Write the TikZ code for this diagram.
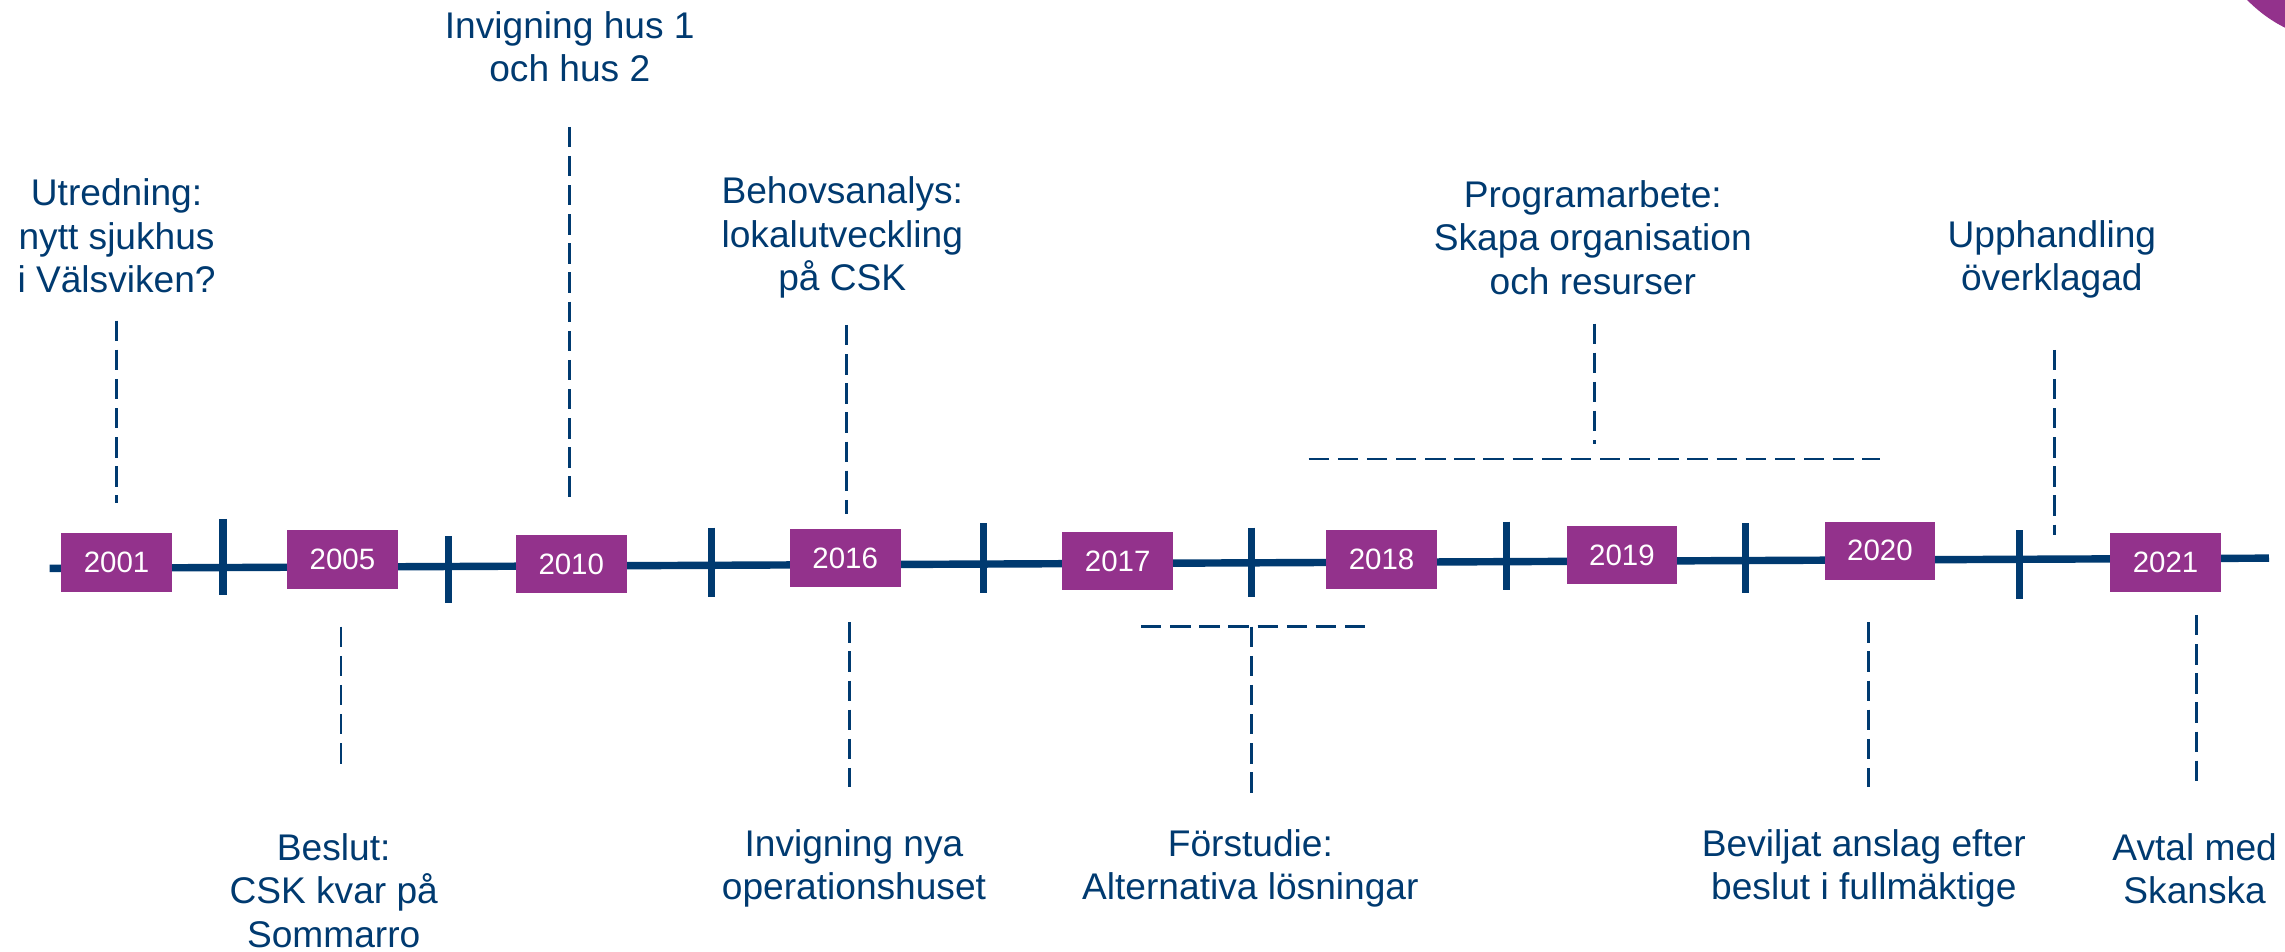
\documentclass[tikz,border=0pt]{standalone}
\usepackage{fontspec}
\setmainfont{Liberation Sans}
\definecolor{navy}{RGB}{0,58,112}
\definecolor{plum}{RGB}{147,50,140}
\begin{document}
\begin{tikzpicture}[x=0.02cm,y=-0.02cm,
  yearbox/.style={fill=plum, minimum width=1.52cm, minimum height=0.8cm, inner sep=0, text=white, font=\fontsize{11.5}{13}\selectfont},
  lbl/.style={align=center, text=navy, font=\fontsize{14.5}{17}\selectfont, inner sep=0},
  guide/.style={draw=navy, line width=1.1pt, dash pattern=on 0.28cm off 0.12cm},
  tickmark/.style={draw=navy, line width=2.8pt},
  axis/.style={draw=navy, line width=2.9pt}]
\useasboundingbox (0,0) rectangle (1568,653);
% corner
\fill[plum] (1542,0) .. controls (1550,8) and (1558,14) .. (1568,19) -- (1568,0) -- cycle;
% axis
\coordinate (axL) at (34,390);
\coordinate (axR) at (1557,383);
\draw[axis] (axL) -- (axR);
% ticks
\foreach \x/\a/\b [count=\i] in {153/356/408, 308/368/414, 488/362/410, 675/359/407, 859/362/410, 1034/358/405, 1198/359/407, 1386/364/411}{
  \coordinate (tk\i a) at (\x,\a);
  \coordinate (tk\i b) at (\x,\b);
  \draw[tickmark] (tk\i a) -- (tk\i b);
}
% year boxes
\node[yearbox] (y2001) at (80,386) {2001};
\node[yearbox] (y2005) at (235,384) {2005};
\node[yearbox] (y2010) at (392,387) {2010};
\node[yearbox] (y2016) at (580,383) {2016};
\node[yearbox] (y2017) at (767,385) {2017};
\node[yearbox] (y2018) at (948,384) {2018};
\node[yearbox] (y2019) at (1113,381) {2019};
\node[yearbox] (y2020) at (1290,378) {2020};
\node[yearbox] (y2021) at (1486,386) {2021};
% labels above
\node[lbl] (l2001) at (80,162) {Utredning:\\nytt sjukhus\\i Välsviken?};
\node[lbl] (l2010) at (391,32) {Invigning hus 1\\och hus 2};
\node[lbl] (l2016a) at (578,163) {Behovsanalys:\\lokalutveckling\\på CSK};
\node[lbl] (lprog) at (1093,163) {Programarbete:\\Skapa organisation\\och resurser};
\node[lbl] (lupp) at (1408,178) {Upphandling\\överklagad};
% labels below
\node[lbl] (l2005) at (229,611) {Beslut:\\CSK kvar på\\Sommarro};
\node[lbl] (l2016b) at (586,596) {Invigning nya\\operationshuset};
\node[lbl] (lfor) at (858,596) {Förstudie:\\Alternativa lösningar};
\node[lbl] (l2020) at (1279,596) {Beviljat anslag efter\\beslut i fullmäktige};
\node[lbl] (l2021) at (1506,596) {Avtal med\\Skanska};
% guides
\coordinate (g1a) at (80,220);   \coordinate (g1b) at (80,345);
\coordinate (g2a) at (391,87);   \coordinate (g2b) at (391,342);
\coordinate (g3a) at (581,223);  \coordinate (g3b) at (581,353);
\coordinate (g4a) at (1094,222); \coordinate (g4b) at (1094,305);
\coordinate (g4l) at (898,315);  \coordinate (g4r) at (1290,315);
\coordinate (g5a) at (1410,240); \coordinate (g5b) at (1410,367);
\coordinate (g6a) at (234,430);  \coordinate (g6b) at (234,525);
\coordinate (g7a) at (583,427);  \coordinate (g7b) at (583,540);
\coordinate (g8l) at (783,430);  \coordinate (g8r) at (940,430);
\coordinate (g8a) at (859,430);  \coordinate (g8b) at (859,545);
\coordinate (g9a) at (1282,427); \coordinate (g9b) at (1282,540);
\coordinate (g10a) at (1507,422); \coordinate (g10b) at (1507,537);
\draw[guide] (g1a) -- (g1b);
\draw[guide] (g2a) -- (g2b);
\draw[guide] (g3a) -- (g3b);
\draw[guide] (g4a) -- (g4b);
\draw[guide] (g4l) -- (g4r);
\draw[guide] (g5a) -- (g5b);
\draw[guide] (g6a) -- (g6b);
\draw[guide] (g7a) -- (g7b);
\draw[guide] (g8l) -- (g8r);
\draw[guide] (g8a) -- (g8b);
\draw[guide] (g9a) -- (g9b);
\draw[guide] (g10a) -- (g10b);
\end{tikzpicture}
\end{document}
